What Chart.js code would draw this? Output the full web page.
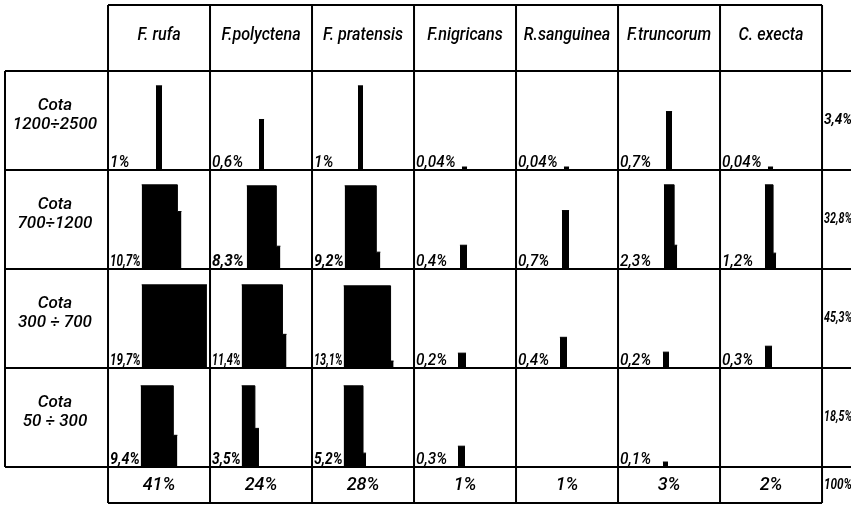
<!DOCTYPE html>
<html>
<head>
<meta charset="utf-8">
<script src="https://cdn.jsdelivr.net/npm/chart.js@4/dist/chart.umd.min.js"></script>
<style>
  html, body { margin: 0; padding: 0; background: #fff; }
  #wrap { width: 851px; height: 506px; }
</style>
</head>
<body>
<div id="wrap"><canvas id="chart" width="851" height="506"></canvas></div>
<script>
// species columns and altitude rows
const species = ["F. rufa", "F.polyctena", "F. pratensis", "F.nigricans", "R.sanguinea", "F.truncorum", "C. execta"];
const rowLabels = [["Cota", "1200÷2500"], ["Cota", "700÷1200"], ["Cota", "300 ÷ 700"], ["Cota", "50 ÷ 300"]];

// share of each species per altitude band (%), null = empty cell
const cellPct = [
  [1, 0.6, 1, 0.04, 0.04, 0.7, 0.04],
  [10.7, 8.3, 9.2, 0.4, 0.7, 2.3, 1.2],
  [19.7, 11.4, 13.1, 0.2, 0.4, 0.2, 0.3],
  [9.4, 3.5, 5.2, 0.3, null, 0.1, null]
];
const rowTotals = [3.4, 32.8, 45.3, 18.5];
const grandTotal = 100;
const colTotals = [41, 24, 28, 1, 1, 3, 2];

// bar glyphs (width in % of a column, height in % of a row)
const barWidth = [
  [6, 5, 5, 5, 5, 6, 5],
  [35, 29, 31, 7, 7, 10, 8],
  [64, 40, 46, 8, 7, 6, 7],
  [32, 13, 19, 7, 0, 5, 0]
];
const barHeight = [
  [85, 51, 85, 3, 3, 59, 3],
  [85, 84, 84, 24, 59, 85, 85],
  [84, 84, 83, 15, 31, 16, 22],
  [82, 82, 82, 21, 0, 5, 0]
];
const stepWidth = [
  [0, 0, 0, 0, 0, 0, 0],
  [4, 4, 4, 0, 0, 3, 3],
  [0, 4, 3, 0, 0, 0, 0],
  [4, 4, 3, 0, 0, 0, 0]
];
const stepHeight = [
  [0, 0, 0, 0, 0, 0, 0],
  [58, 23, 17, 0, 0, 24, 16],
  [0, 34, 7, 0, 0, 0, 0],
  [32, 39, 14, 0, 0, 0, 0]
];

// layout: where each glyph starts inside its cell (% of column)
const glyphOffset = [
  [47, 48, 45, 47, 47, 47, 47],
  [33, 36, 32, 45, 45, 45, 44],
  [33, 31, 31, 43, 43, 44, 44],
  [32, 31, 31, 43, 0, 44, 0]
];
const X_MIN = -105.9, X_MAX = 728.4;
const Y_MIN = -71.7, Y_MAX = 439.4;
const HEADER_TOP = -66.7, TOTALS_BOTTOM = 436.4, LEFT_EDGE = -101;

const fmt = v => String(v).replace(".", ",") + "%";

const datasets = [];
cellPct.forEach((row, r) => {
  row.forEach((v, c) => {
    if (v === null || !barHeight[r][c]) return;
    const base = 100 * (r + 1);
    const x0 = 100 * c + glyphOffset[r][c];
    const x1 = x0 + barWidth[r][c];
    const top = base - barHeight[r][c];
    const pts = [{ x: x0, y: top }];
    if (stepWidth[r][c]) {
      pts.push({ x: x1, y: base - stepHeight[r][c] });
      pts.push({ x: x1 + stepWidth[r][c], y: base - stepHeight[r][c] });
    } else {
      pts.push({ x: x1, y: top });
    }
    datasets.push({
      label: species[c] + " " + rowLabels[r][1],
      data: pts,
      stepped: "before",
      fill: { value: base },
      backgroundColor: "#000",
      borderColor: "#000",
      borderWidth: 1,
      pointRadius: 0
    });
  });
});

const FONT = '"Roboto", "Liberation Sans", sans-serif';

const tablePlugin = {
  id: "table",
  beforeDatasetsDraw(chart) {
    const { ctx, scales: { x, y } } = chart;
    const X = v => x.getPixelForValue(v), Y = v => y.getPixelForValue(v);
    ctx.save();
    ctx.strokeStyle = "#000";
    ctx.lineWidth = 2;
    ctx.beginPath();
    for (let r = 0; r <= 4; r++) {
      ctx.moveTo(X(LEFT_EDGE), Y(100 * r));
      ctx.lineTo(chart.width, Y(100 * r));
    }
    ctx.moveTo(X(0), Y(HEADER_TOP)); ctx.lineTo(X(700), Y(HEADER_TOP));
    ctx.moveTo(X(0), Y(TOTALS_BOTTOM)); ctx.lineTo(X(700), Y(TOTALS_BOTTOM));
    for (let c = 0; c <= 7; c++) {
      ctx.moveTo(X(100 * c), Y(HEADER_TOP));
      ctx.lineTo(X(100 * c), Y(TOTALS_BOTTOM));
    }
    ctx.moveTo(X(LEFT_EDGE), Y(0)); ctx.lineTo(X(LEFT_EDGE), Y(400));
    ctx.stroke();
    ctx.restore();
  },
  afterDatasetsDraw(chart) {
    const { ctx, scales: { x, y } } = chart;
    const X = v => x.getPixelForValue(v), Y = v => y.getPixelForValue(v);
    const text = (s, px, py, size, opts = {}) => {
      ctx.save();
      ctx.font = `italic ${opts.weight || 500} ${size}px ${FONT}`;
      ctx.textAlign = opts.align || "left";
      ctx.textBaseline = opts.baseline || "middle";
      ctx.fillStyle = "#000";
      ctx.translate(px, py);
      ctx.scale(opts.squeeze || 1, 1);
      if (opts.maxWidth) ctx.fillText(s, 0, 0, opts.maxWidth / (opts.squeeze || 1));
      else ctx.fillText(s, 0, 0);
      ctx.restore();
    };
    species.forEach((s, c) => text(s, X(100 * c + 50), Y(-36.4), 19, { align: "center", squeeze: 0.85 }));
    rowLabels.forEach((lines, r) => {
      text(lines[0], X(-52), Y(100 * r + 35), 17, { align: "center" });
      text(lines[1], X(-52), Y(100 * r + 54), 17, { align: "center" });
    });
    cellPct.forEach((row, r) => row.forEach((v, c) => {
      if (v === null) return;
      const room = X(100 * c + glyphOffset[r][c]) - X(100 * c) - 3;
      text(fmt(v), X(100 * c) + 2, Y(100 * (r + 1)) - 3, 17,
        { baseline: "alphabetic", squeeze: 0.9, maxWidth: room, weight: v >= 3 ? 700 : 500 });
    }));
    rowTotals.forEach((v, r) => text(fmt(v), X(700) + 2, Y(100 * r + 50), 15, { maxWidth: 28, weight: 700 }));
    text(fmt(grandTotal), X(700) + 2, Y(418.2), 15, { maxWidth: 28, weight: 700 });
    colTotals.forEach((v, c) => text(fmt(v), X(100 * c + 50), Y(418.2), 18, { align: "center" }));
  }
};

new Chart(document.getElementById("chart").getContext("2d"), {
  type: "line",
  data: { datasets },
  options: {
    responsive: false,
    animation: false,
    events: [],
    layout: { padding: 0 },
    plugins: { legend: { display: false }, tooltip: { enabled: false } },
    elements: { line: { tension: 0 }, point: { radius: 0 } },
    scales: {
      x: { type: "linear", min: X_MIN, max: X_MAX, display: false },
      y: { type: "linear", min: Y_MIN, max: Y_MAX, reverse: true, display: false }
    }
  },
  plugins: [tablePlugin]
});
</script>
</body>
</html>
